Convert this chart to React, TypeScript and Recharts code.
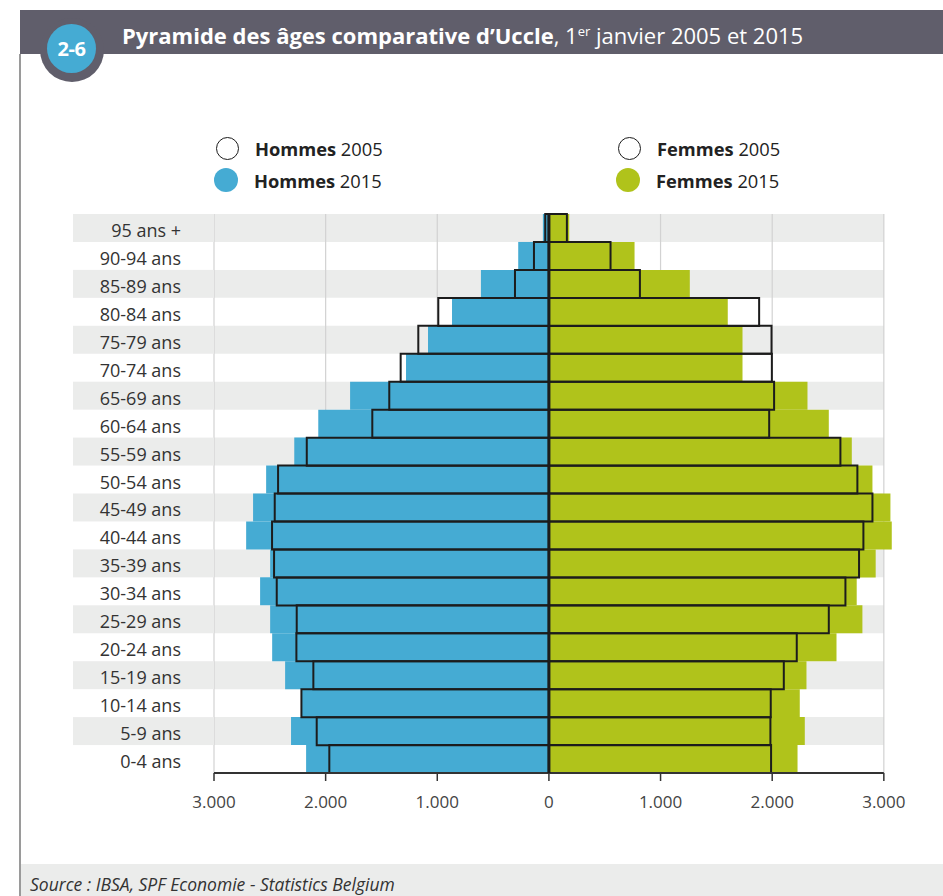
import React from 'react';
import { BarChart, Bar, XAxis, YAxis, CartesianGrid, ReferenceArea, ReferenceLine } from 'recharts';

// Age groups, top to bottom
const ageGroups = [
  '95 ans +', '90-94 ans', '85-89 ans', '80-84 ans', '75-79 ans', '70-74 ans', '65-69 ans',
  '60-64 ans', '55-59 ans', '50-54 ans', '45-49 ans', '40-44 ans', '35-39 ans', '30-34 ans',
  '25-29 ans', '20-24 ans', '15-19 ans', '10-14 ans', '5-9 ans', '0-4 ans',
];

const hommes2015 = [54, 275, 609, 868, 1083, 1280, 1781, 2066, 2281, 2533, 2650, 2712, 2497, 2587, 2497, 2479, 2363, 2217, 2310, 2175];
const hommes2005 = [33, 134, 304, 991, 1170, 1328, 1430, 1582, 2169, 2426, 2456, 2480, 2462, 2438, 2259, 2262, 2110, 2217, 2080, 1967];
const femmes2015 = [182, 767, 1262, 1602, 1734, 1734, 2316, 2507, 2713, 2898, 3059, 3071, 2927, 2757, 2808, 2576, 2307, 2247, 2292, 2227];
const femmes2005 = [161, 552, 815, 1883, 1994, 1997, 2017, 1973, 2611, 2763, 2898, 2817, 2778, 2656, 2507, 2220, 2104, 1987, 1984, 1990];

const xTicks = [-3000, -2000, -1000, 0, 1000, 2000, 3000];

const BLUE = '#45abd3';
const GREEN = '#b0c31b';
const BAND = '#ebeceb';
const DARK = '#1c1c1c';
const FONT = '"Open Sans", "Noto Sans", sans-serif';

const data = ageGroups.map((age, i) => ({
  age,
  h2015: -hommes2015[i],
  f2015: femmes2015[i],
  h2005: -hommes2005[i],
  f2005: femmes2005[i],
}));

const fmt = (v: number) => String(Math.abs(v)).replace(/\B(?=(\d{3})+(?!\d))/g, '.');

const AgeTick = (props: any) => {
  const { x, y, payload, index } = props;
  const half = payload.offset ?? 14;
  return (
    <g>
      {index % 2 === 0 && <rect x={x - 141} y={y - half} width={141} height={half * 2} fill={BAND} />}
      <text x={x - 33} y={y} dy={9} textAnchor="end" fontSize={18} fill="#333" fontFamily={FONT}>
        {payload.value}
      </text>
    </g>
  );
};

const LegendItem = ({ left, top, filled, color, bold, year }: any) => (
  <div style={{ position: 'absolute', left, top, display: 'flex', alignItems: 'center', height: 24 }}>
    <div
      style={{
        width: filled ? 24 : 21,
        height: filled ? 24 : 21,
        borderRadius: '50%',
        background: filled ? color : '#fff',
        border: filled ? 'none' : `1.5px solid ${DARK}`,
        marginLeft: filled ? 0 : 0.5,
      }}
    />
    <span style={{ marginLeft: filled ? 16 : 16.5, fontSize: 18.3, color: '#222', fontFamily: FONT, whiteSpace: 'nowrap' }}>
      <b>{bold}</b> {year}
    </span>
  </div>
);

export default function App() {
  return (
    <div style={{ position: 'absolute', left: 0, top: 0, width: 943, height: 896, overflow: 'hidden', background: '#fff', fontFamily: FONT }}>
      {/* header */}
      <div style={{ position: 'absolute', left: 20, top: 10, width: 923, height: 44, background: '#605e6b' }} />
      <div style={{ position: 'absolute', left: 19, top: 54, width: 2, height: 842, background: '#9a9a9a' }} />
      <div style={{ position: 'absolute', left: 40, top: 18, width: 64, height: 64, borderRadius: '50%', background: '#605e6b' }} />
      <div
        style={{
          position: 'absolute', left: 47, top: 24, width: 49, height: 49, borderRadius: '50%', background: BLUE,
          color: '#fff', fontWeight: 700, fontSize: 20, letterSpacing: -0.5, display: 'flex', alignItems: 'center', justifyContent: 'center',
        }}
      >
        2-6
      </div>
      <div style={{ position: 'absolute', left: 122, top: 16, color: '#fff', fontSize: 22, whiteSpace: 'nowrap', lineHeight: '30px' }}>
        <b>Pyramide des âges comparative d’Uccle</b>, 1<sup style={{ fontSize: 13 }}>er</sup> janvier 2005 et 2015
      </div>

      {/* legend */}
      <LegendItem left={215} top={136} filled={false} bold="Hommes" year="2005" />
      <LegendItem left={214} top={168} filled color={BLUE} bold="Hommes" year="2015" />
      <LegendItem left={617} top={136} filled={false} bold="Femmes" year="2005" />
      <LegendItem left={616} top={168} filled color={GREEN} bold="Femmes" year="2015" />

      <div style={{ position: 'absolute', left: 0, top: 0 }}>
        <BarChart
          width={943}
          height={860}
          data={data}
          layout="vertical"
          stackOffset="sign"
          barCategoryGap={0}
          barGap="-100%"
          margin={{ top: 214, right: 48, bottom: 47, left: 73 }}
        >
          {ageGroups.map((age, i) =>
            i % 2 === 0 ? (
              <ReferenceArea key={age} y1={age} y2={age} x1={-3000} x2={3000} fill={BAND} fillOpacity={1} stroke="none" zIndex={-200} />
            ) : null
          )}
          <CartesianGrid horizontal={false} vertical verticalValues={xTicks} stroke="#d2d2d2" strokeWidth={1.2} />
          <XAxis
            type="number"
            domain={[-3000, 3100]}
            ticks={xTicks}
            tickFormatter={fmt}
            axisLine={false}
            tickLine={{ stroke: '#333', strokeWidth: 1.5 }}
            tickSize={8}
            tickMargin={15}
            height={40}
            tick={{ fontSize: 17, fill: '#444', fontFamily: FONT }}
          />
          <YAxis
            type="category"
            dataKey="age"
            width={141}
            axisLine={false}
            tickLine={false}
            tickSize={0}
            tickMargin={0}
            interval={0}
            tick={<AgeTick />}
          />
          <Bar dataKey="h2015" stackId="y2015" fill={BLUE} isAnimationActive={false} />
          <Bar dataKey="f2015" stackId="y2015" fill={GREEN} isAnimationActive={false} />
          <Bar dataKey="h2005" stackId="y2005" fill="none" stroke={DARK} strokeWidth={2} isAnimationActive={false} />
          <Bar dataKey="f2005" stackId="y2005" fill="none" stroke={DARK} strokeWidth={2} isAnimationActive={false} />
          <ReferenceLine
            segment={[{ x: -3000, y: '0-4 ans' }, { x: 3000, y: '0-4 ans' }]}
            position="end"
            stroke="#333"
            strokeWidth={2}
          />
          <ReferenceLine x={0} stroke={DARK} strokeWidth={3} />
        </BarChart>
      </div>

      {/* source */}
      <div
        style={{
          position: 'absolute', left: 21, top: 864, width: 922, height: 32, background: BAND,
          fontStyle: 'italic', fontSize: 17.5, color: '#333', lineHeight: '40px', paddingLeft: 9, boxSizing: 'border-box', whiteSpace: 'nowrap',
        }}
      >
        Source : IBSA, SPF Economie - Statistics Belgium
      </div>
    </div>
  );
}
